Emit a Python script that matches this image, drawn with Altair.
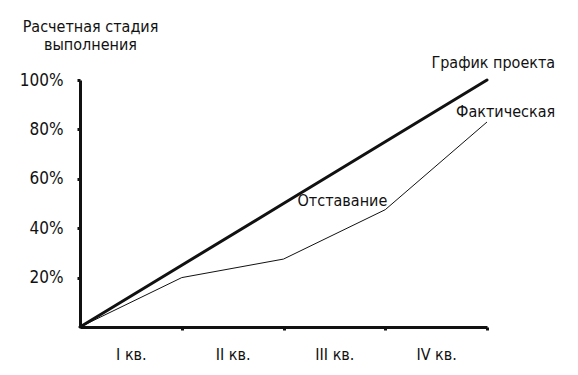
import altair as alt
import pandas as pd

FONT = "Liberation Sans Narrow, DejaVu Sans Condensed, Roboto, sans-serif"

quarters = [0, 1, 2, 3, 4]
plan_values = [0, 25, 50, 75, 100]
actual_values = [0, 20, 27.5, 47.5, 83]
quarter_labels = ["I кв.", "II кв.", "III кв.", "IV кв."]
y_title = ["Расчетная стадия", "выполнения"]

ann_text = ["График проекта", "Фактическая", "Отставание"]
ann_x = [4.67, 4.67, 3.02]
ann_y = [107, 87, 51]

lines = pd.DataFrame({
    "q": quarters * 2,
    "v": plan_values + actual_values,
    "s": ["План"] * 5 + ["Факт"] * 5,
})
ann = pd.DataFrame({"t": ann_text, "x": ann_x, "y": ann_y})

label_expr = (
    "datum.value == 0.5 ? '" + quarter_labels[0] + "' : "
    "datum.value == 1.5 ? '" + quarter_labels[1] + "' : "
    "datum.value == 2.5 ? '" + quarter_labels[2] + "' : "
    "datum.value == 3.5 ? '" + quarter_labels[3] + "' : ''"
)

x_scale = alt.Scale(domain=[0, 4], nice=False, zero=False)
y_scale = alt.Scale(domain=[0, 100], nice=False)

x_axis = alt.Axis(
    values=[0.5, 1, 1.5, 2, 2.5, 3, 3.5, 4],
    labelExpr=label_expr,
    grid=False,
    domainColor="#111",
    domainWidth=3,
    tickColor="#111",
    tickWidth=3,
    tickSize=3,
    tickOpacity={"condition": {"test": "datum.value % 1 !== 0", "value": 0}, "value": 1},
    labelFont=FONT,
    labelFontSize=16,
    labelColor="#111",
    labelPadding=16,
    labelBound=False,
    labelOverlap=False,
    title=None,
)

y_axis = alt.Axis(
    values=[20, 40, 60, 80, 100],
    format=".0f",
    labelExpr="datum.value + '%'",
    grid=False,
    domainColor="#111",
    domainWidth=3,
    tickColor="#111",
    tickWidth=3,
    tickSize=3,
    labelFont=FONT,
    labelFontSize=17,
    labelColor="#111",
    labelPadding=14,
    title=y_title,
    titleFont=FONT,
    titleFontSize=16,
    titleFontWeight="normal",
    titleColor="#111",
    titleAngle=0,
    titleAlign="center",
    titleBaseline="top",
    titleX=10,
    titleY=-62,
    titleLineHeight=18,
)

base = alt.Chart(lines)

plan = base.transform_filter(alt.datum.s == "План").mark_line(
    color="#111", strokeWidth=3, strokeCap="round"
).encode(
    x=alt.X("q:Q", scale=x_scale, axis=x_axis),
    y=alt.Y("v:Q", scale=y_scale, axis=y_axis),
)

actual = base.transform_filter(alt.datum.s == "Факт").mark_line(
    color="#111", strokeWidth=1
).encode(
    x=alt.X("q:Q", scale=x_scale),
    y=alt.Y("v:Q", scale=y_scale),
)

labels = alt.Chart(ann).mark_text(
    font=FONT, fontSize=16, color="#111", align="right", baseline="middle", clip=False
).encode(
    x=alt.X("x:Q", scale=x_scale),
    y=alt.Y("y:Q", scale=y_scale),
    text="t:N",
)

chart = alt.layer(plan, actual, labels).properties(
    width=407,
    height=247,
    background="white",
    autosize=alt.AutoSizeParams(type="none"),
    padding={"left": 72, "top": 72, "right": 83, "bottom": 40},
).configure_view(stroke="transparent", strokeWidth=0).configure_axis(grid=False)

chart.save("out.html", embed_options={"renderer": "svg", "actions": False})
